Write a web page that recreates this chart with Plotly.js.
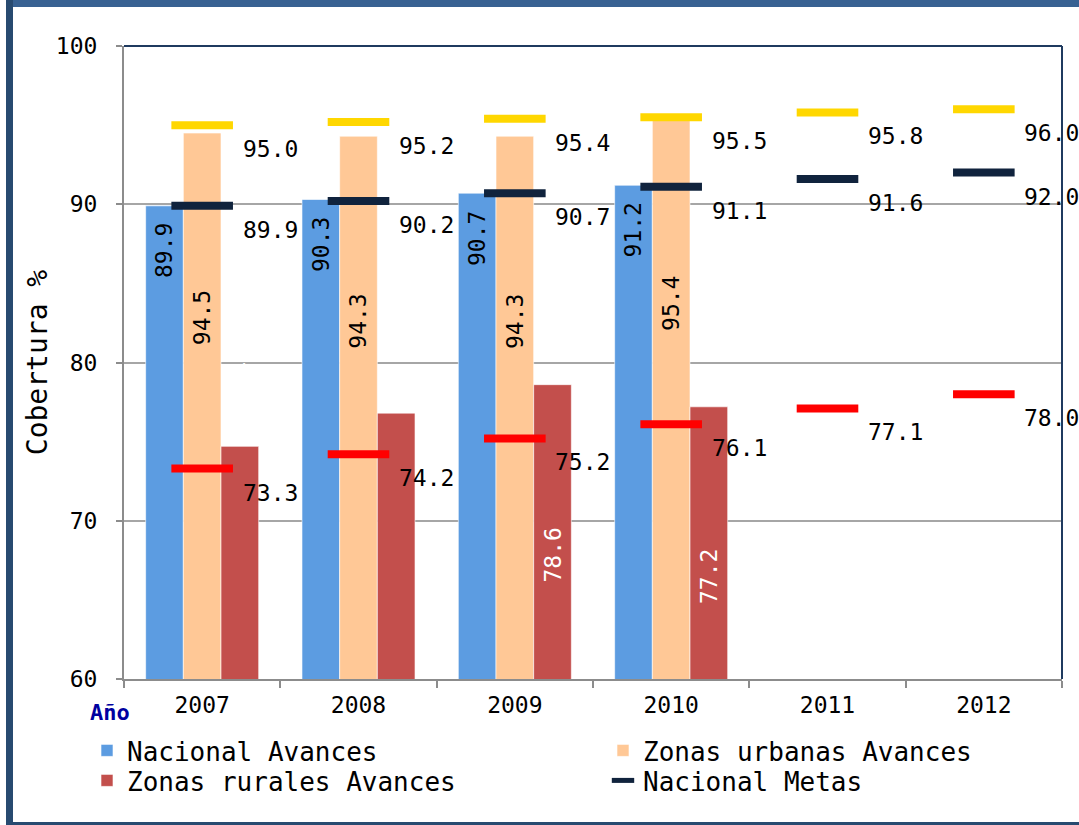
<!DOCTYPE html>
<html>
<head>
<meta charset="utf-8">
<script src="https://cdn.plot.ly/plotly-3.0.1.min.js"></script>
<style>
  html, body { margin: 0; padding: 0; background: #ffffff; }
  #chart { width: 1079px; height: 825px; }
</style>
</head>
<body>
<div id="chart"></div>
<script>
// ---- data ----
const years = ['2007', '2008', '2009', '2010', '2011', '2012'];
const nacionalAvances = [89.9, 90.3, 90.7, 91.2, null, null];
const urbanasAvances  = [94.5, 94.3, 94.3, 95.4, null, null];
const ruralesAvances  = [74.7, 76.8, 78.6, 77.2, null, null];
const nacionalMetas   = [89.9, 90.2, 90.7, 91.1, 91.6, 92.0];
const urbanasMetas    = [95.0, 95.2, 95.4, 95.5, 95.8, 96.0];
const ruralesMetas    = [73.3, 74.2, 75.2, 76.1, 77.1, 78.0];
const yTicks = [60, 70, 80, 90, 100];

(function () {
const MONO = 'DejaVu Sans Mono, Liberation Mono, monospace';
const cBlue = '#5c9ce1', cPeach = '#ffc896', cRed = '#c34f4c';
const cYellow = '#ffd700', cNavy = '#10233d', cRedMeta = '#ff0000';

const PL = 124, PR = 1062, PT = 46, PB = 679, FW = 1079, FH = 825;
const px = x => (x - PL) / (PR - PL);
const py = y => (PB - y) / (PB - PT);

function barTrace(name, vals, color, leg) {
  return {
    type: 'bar', name: name, x: years, y: vals, legend: leg,
    marker: { color: color, line: { color: 'rgba(255,255,255,0.6)', width: 1 } }
  };
}
function metaTrace(name, vals, color, show, leg) {
  return {
    type: 'scatter', mode: 'markers', name: name, x: years, y: vals,
    showlegend: show, legend: leg,
    marker: { symbol: 'line-ew', size: 44, color: color, line: { color: color, width: 8 } }
  };
}

const data = [
  barTrace('Nacional Avances', nacionalAvances, cBlue, 'legend'),
  barTrace('Zonas urbanas Avances', urbanasAvances, cPeach, 'legend2'),
  barTrace('Zonas rurales Avances', ruralesAvances, cRed, 'legend3'),
  metaTrace('Nacional Metas', nacionalMetas, cNavy, true, 'legend4'),
  metaTrace('Zonas urbanas Metas', urbanasMetas, cYellow, false, 'legend4'),
  metaTrace('Zonas rurales Metas', ruralesMetas, cRedMeta, false, 'legend4')
];

// annotations on the category axis use the category index
const annotations = [];
function barLabels(vals, xshift, yshift, color, lowLimit) {
  vals.forEach((v, i) => {
    if (v === null) return;
    // short bars: the (white) label sits above the bar, as in the original
    const above = lowLimit !== undefined && v < lowLimit;
    annotations.push({
      x: i, y: above ? lowLimit + 3 : v, xref: 'x', yref: 'y', text: v.toFixed(1),
      showarrow: false, textangle: -90, xshift: xshift, yshift: above ? 0 : yshift,
      font: { family: MONO, size: 23, color: color }
    });
  });
}
barLabels(nacionalAvances, -38, -45, '#000000');
barLabels(urbanasAvances, 0, -185, '#000000');
barLabels(ruralesAvances, 38, -170, '#ffffff', 77);

function metaLabels(vals) {
  vals.forEach((v, i) => {
    annotations.push({
      x: i, y: v, xref: 'x', yref: 'y', text: v.toFixed(1),
      showarrow: false, xshift: 68, yshift: -24,
      font: { family: MONO, size: 23, color: '#000000' }
    });
  });
}
metaLabels(urbanasMetas);
metaLabels(nacionalMetas);
metaLabels(ruralesMetas);

annotations.push({
  xref: 'paper', yref: 'paper', x: px(110), y: py(712), text: '<b>Año</b>',
  showarrow: false, xanchor: 'center', yanchor: 'middle',
  font: { family: MONO, size: 22, color: '#0000a0' }
});

const shapes = [
  { type: 'line', xref: 'paper', yref: 'paper', x0: 0, x1: 1, y0: 1, y1: 1, line: { color: '#1f3a5f', width: 2 } },
  { type: 'line', xref: 'paper', yref: 'paper', x0: 1, x1: 1, y0: 0, y1: 1, line: { color: '#1f3a5f', width: 2 } },
  { type: 'rect', xref: 'paper', yref: 'paper', x0: px(12), x1: px(FW + 5), y0: py(0), y1: py(7),
    fillcolor: '#386192', line: { width: 0 }, layer: 'above' },
  { type: 'rect', xref: 'paper', yref: 'paper', x0: px(6), x1: px(13), y0: py(-5), y1: py(FH + 5),
    fillcolor: '#284a70', line: { width: 0 }, layer: 'above' },
  { type: 'rect', xref: 'paper', yref: 'paper', x0: px(12), x1: px(FW + 5), y0: py(822), y1: py(825),
    fillcolor: '#284a70', line: { width: 0 }, layer: 'above' }
];

const legFont = { family: MONO, size: 26, color: '#000000' };
function leg(xp, yp) {
  return { x: px(xp), xanchor: 'left', y: py(yp), yanchor: 'top', font: legFont,
           bgcolor: 'rgba(0,0,0,0)', tracegroupgap: 0 };
}

const layout = {
  width: FW, height: FH,
  margin: { l: PL, r: FW - PR, t: PT, b: FH - PB, pad: 0, autoexpand: false },
  paper_bgcolor: '#ffffff', plot_bgcolor: '#ffffff',
  barmode: 'group', bargap: 0.277, bargroupgap: 0,
  showlegend: true,
  legend: leg(87, 727),
  legend2: leg(603, 727),
  legend3: leg(87, 757),
  legend4: leg(603, 757),
  xaxis: {
    type: 'category', categoryorder: 'array', categoryarray: years,
    range: [-0.5, years.length - 0.5], autorange: false,
    showline: true, linecolor: '#8c8c8c', linewidth: 2,
    ticks: 'outside', tickson: 'boundaries', ticklen: 7, tickcolor: '#8c8c8c', tickwidth: 2,
    ticklabelstandoff: 4,
    tickfont: { family: MONO, size: 23, color: '#000000' },
    showgrid: false, zeroline: false
  },
  yaxis: {
    range: [60, 100], autorange: false, tickvals: yTicks, ticktext: yTicks.map(String),
    showline: true, linecolor: '#8c8c8c', linewidth: 2,
    ticks: 'outside', ticklen: 6, tickcolor: '#8c8c8c', tickwidth: 2,
    ticklabelstandoff: 14,
    tickfont: { family: MONO, size: 23, color: '#000000' },
    showgrid: true, gridcolor: '#a6a6a6', gridwidth: 1.5, zeroline: false,
    title: { text: 'Cobertura %', standoff: 0, font: { family: MONO, size: 28, color: '#000000' } }
  },
  annotations: annotations,
  shapes: shapes
};

Plotly.newPlot('chart', data, layout, { displayModeBar: false });
})();
</script>
</body>
</html>
